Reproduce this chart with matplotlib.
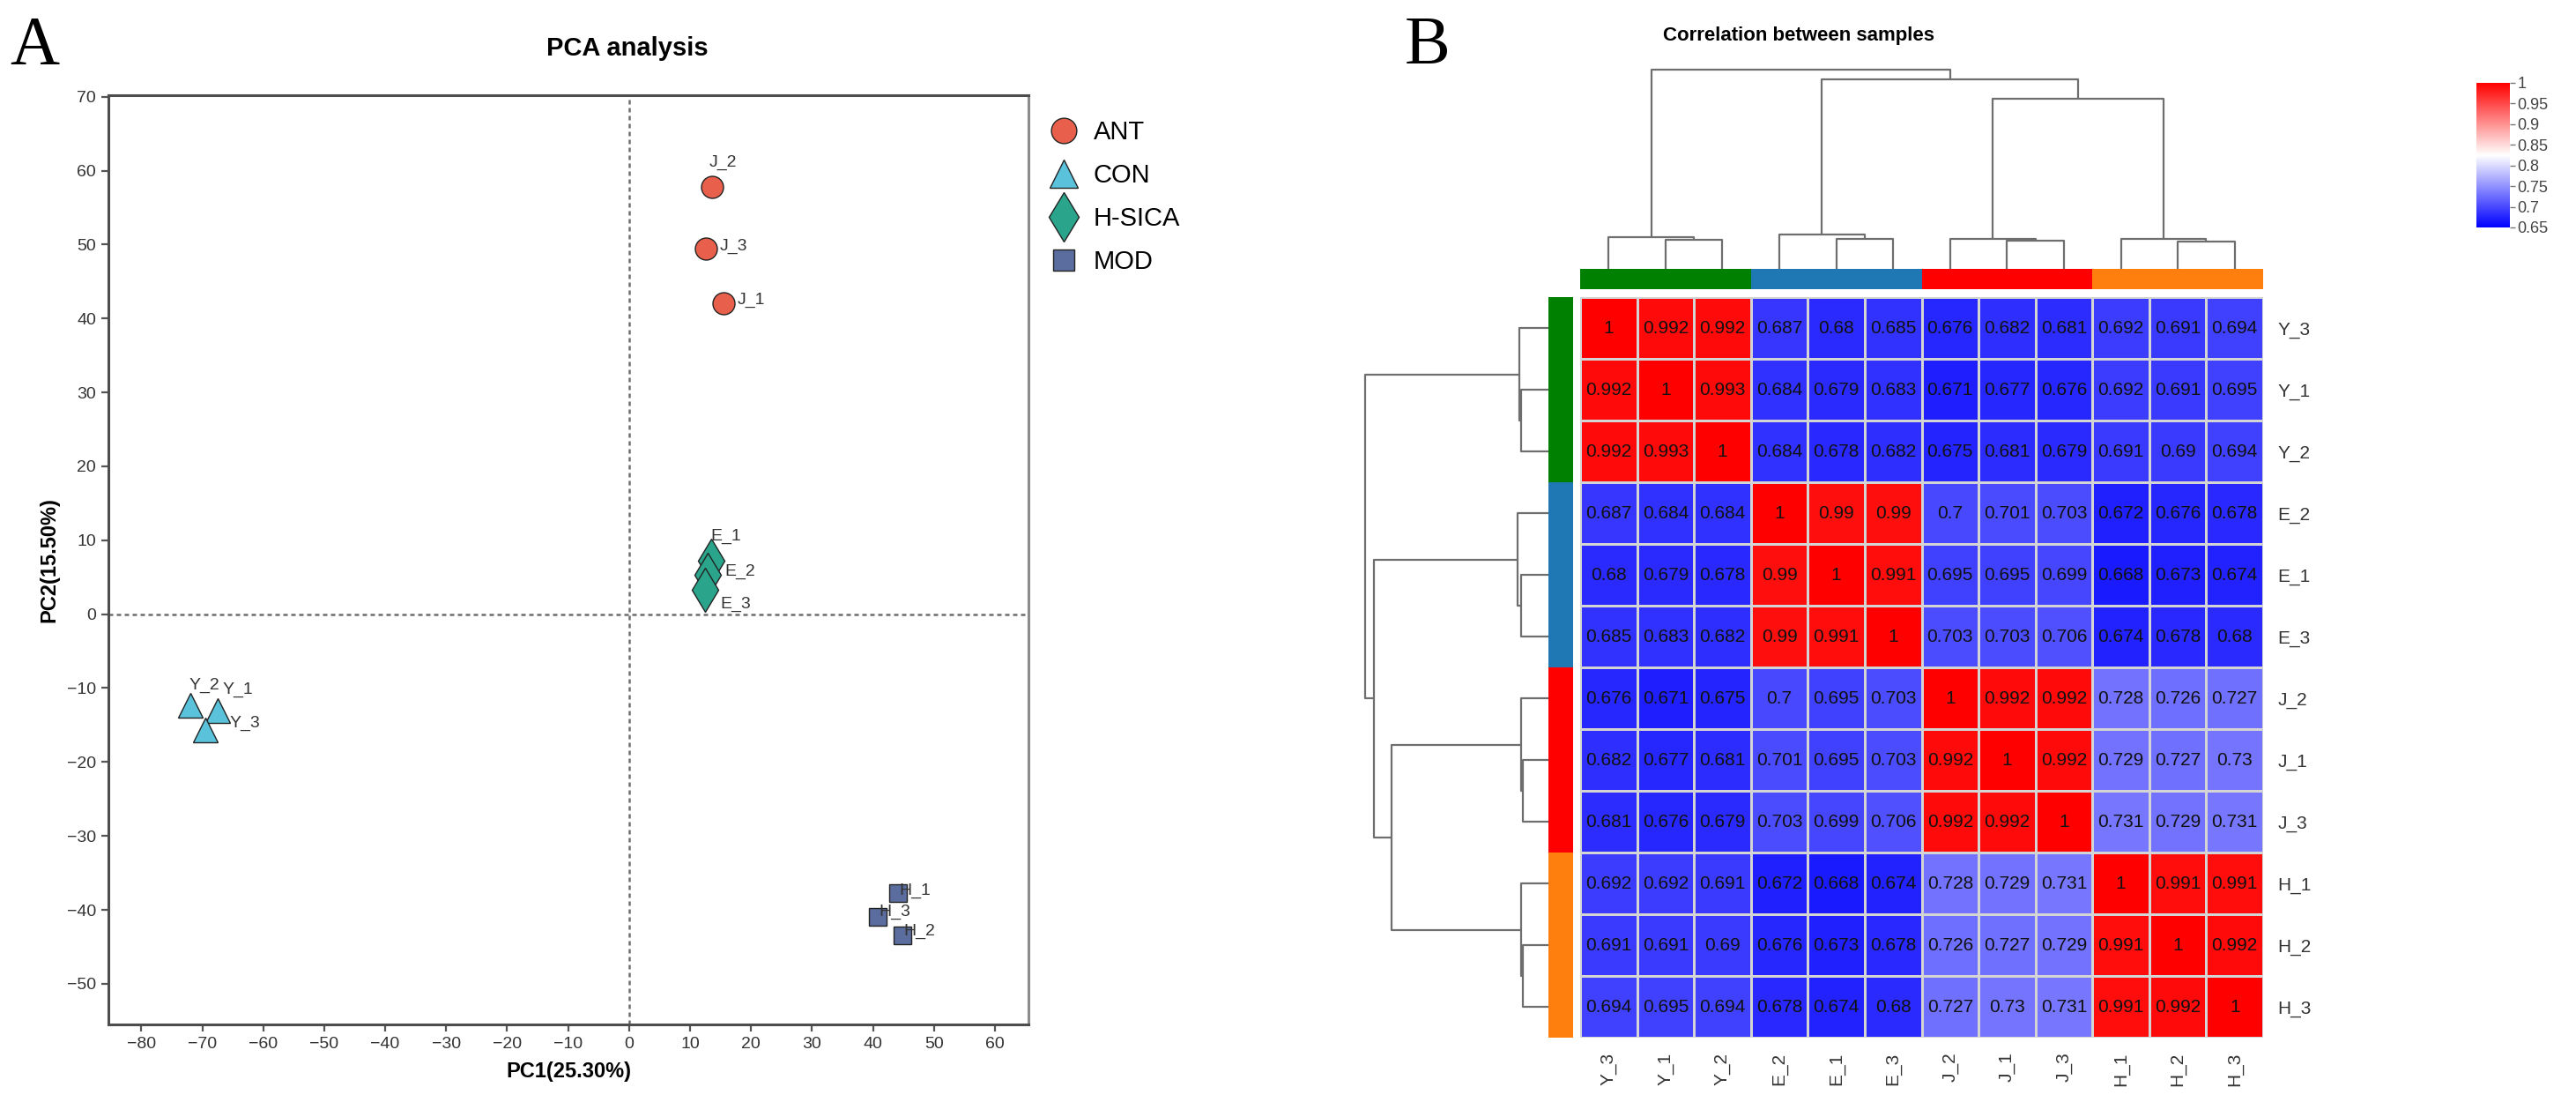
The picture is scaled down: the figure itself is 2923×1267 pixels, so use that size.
"""
PCA 散点图 + 样本相关性热图（复刻图）
"""

import numpy as np
import matplotlib as mpl
import matplotlib.pyplot as plt
from matplotlib.colors import LinearSegmentedColormap, Normalize
from matplotlib.lines import Line2D


# ===========================
# 数据
# ===========================

# ---- A: PCA ----
samples = ["J_1", "J_2", "J_3", "Y_1", "Y_2", "Y_3",
           "E_1", "E_2", "E_3", "H_1", "H_2", "H_3"]
pc1 = [15.5, 13.6, 12.6, -67.5, -72.0, -69.5, 13.4, 12.9, 12.4, 44.1, 44.8, 40.8]
pc2 = [42.0, 57.8, 49.4, -13.1, -12.3, -15.7, 7.2, 5.3, 3.3, -37.7, -43.4, -41.0]
sample_group = ["ANT"] * 3 + ["CON"] * 3 + ["H-SICA"] * 3 + ["MOD"] * 3

groups = ["ANT", "CON", "H-SICA", "MOD"]
x_ticks = list(range(-80, 61, 10))
y_ticks = list(range(-50, 71, 10))

# ---- B: correlation heatmap ----
hm_labels = ["Y_3", "Y_1", "Y_2", "E_2", "E_1", "E_3",
             "J_2", "J_1", "J_3", "H_1", "H_2", "H_3"]
hm_group = ["Y"] * 3 + ["E"] * 3 + ["J"] * 3 + ["H"] * 3

corr = [
    [1, 0.992, 0.992, 0.687, 0.68, 0.685, 0.676, 0.682, 0.681, 0.692, 0.691, 0.694],
    [0.992, 1, 0.993, 0.684, 0.679, 0.683, 0.671, 0.677, 0.676, 0.692, 0.691, 0.695],
    [0.992, 0.993, 1, 0.684, 0.678, 0.682, 0.675, 0.681, 0.679, 0.691, 0.69, 0.694],
    [0.687, 0.684, 0.684, 1, 0.99, 0.99, 0.7, 0.701, 0.703, 0.672, 0.676, 0.678],
    [0.68, 0.679, 0.678, 0.99, 1, 0.991, 0.695, 0.695, 0.699, 0.668, 0.673, 0.674],
    [0.685, 0.683, 0.682, 0.99, 0.991, 1, 0.703, 0.703, 0.706, 0.674, 0.678, 0.68],
    [0.676, 0.671, 0.675, 0.7, 0.695, 0.703, 1, 0.992, 0.992, 0.728, 0.726, 0.727],
    [0.682, 0.677, 0.681, 0.701, 0.695, 0.703, 0.992, 1, 0.992, 0.729, 0.727, 0.73],
    [0.681, 0.676, 0.679, 0.703, 0.699, 0.706, 0.992, 0.992, 1, 0.731, 0.729, 0.731],
    [0.692, 0.692, 0.691, 0.672, 0.668, 0.674, 0.728, 0.729, 0.731, 1, 0.991, 0.991],
    [0.691, 0.691, 0.69, 0.676, 0.673, 0.678, 0.726, 0.727, 0.729, 0.991, 1, 0.992],
    [0.694, 0.695, 0.694, 0.678, 0.674, 0.68, 0.727, 0.73, 0.731, 0.991, 0.992, 1],
]

# 聚类树（叶子序号按 hm_labels 顺序，新节点从 12 开始编号）
merge_a = [1, 0, 4, 3, 7, 6, 10, 9, 17, 15, 13]
merge_b = [2, 12, 5, 14, 8, 16, 11, 18, 19, 20, 21]
merge_h = [100, 107, 102, 115, 95, 101, 94, 102, 577, 642, 675]

cbar_ticks = [0.65, 0.7, 0.75, 0.8, 0.85, 0.9, 0.95, 1.0]
cbar_ticklabels = ["0.65", "0.7", "0.75", "0.8", "0.85", "0.9", "0.95", "1"]


# ===========================
# 样式
# ===========================

W, H = 2923, 1267
DPI = 100

FONT = "Liberation Sans"

group_style = {
    "ANT": dict(marker="o", color="#E8604C", ms=18),
    "CON": dict(marker="^", color="#5BC2DC", ms=20),
    "H-SICA": dict(marker="d", color="#2AA58C", ms=25),
    "MOD": dict(marker="s", color="#5A6D9E", ms=15),
}

# 样本标签偏移 (points)
label_offset = {
    "J_2": (-2, 14, "left", "bottom"),
    "J_3": (11, 2, "left", "center"),
    "J_1": (11, 3, "left", "center"),
    "E_1": (0, 20, "left", "center"),
    "E_2": (14, 3, "left", "center"),
    "E_3": (13, -12, "left", "center"),
    "Y_2": (-1, 16, "left", "center"),
    "Y_1": (4, 17, "left", "center"),
    "Y_3": (20, 6, "left", "center"),
    "H_1": (1, 2, "left", "center"),
    "H_3": (1, 4, "left", "center"),
    "H_2": (1, 3, "left", "center"),
}

anno_colors = {"Y": "#008000", "E": "#1F77B4", "J": "#FF0000", "H": "#FF7F0E"}

cmap = LinearSegmentedColormap.from_list("bwr_ph", ["#0000FF", "#FFFFFF", "#FF0000"])
norm = Normalize(vmin=0.65, vmax=1.0)

plt.rcParams["font.family"] = [FONT, "DejaVu Sans"]


def px_rect(x0, y0, x1, y1):
    return [x0 / W, 1 - y1 / H, (x1 - x0) / W, (y1 - y0) / H]


fig = plt.figure(figsize=(W / DPI, H / DPI), dpi=DPI)


# ===========================
# A: PCA
# ===========================

ax = fig.add_axes(px_rect(123, 108, 1167, 1162))

ax.axvline(0, color="#6e6e6e", lw=1.8, linestyle=(0, (2, 1.6)), zorder=1)
ax.axhline(0, color="#6e6e6e", lw=1.8, linestyle=(0, (2, 1.6)), zorder=1)

for g in groups:
    st = group_style[g]
    xs = [x for x, sg in zip(pc1, sample_group) if sg == g]
    ys = [y for y, sg in zip(pc2, sample_group) if sg == g]
    ax.plot(xs, ys, linestyle="none", marker=st["marker"], ms=st["ms"],
            markerfacecolor=st["color"], markeredgecolor="#222222",
            markeredgewidth=1.0, zorder=3)

for name, x, y in zip(samples, pc1, pc2):
    dx, dy, ha, va = label_offset[name]
    ax.annotate(name, (x, y), xytext=(dx, dy), textcoords="offset points",
                ha=ha, va=va, fontsize=14, color="#333333", zorder=4)

ax.set_xlim(-85.4, 65.5)
ax.set_ylim(-55.5, 70.2)
ax.set_xticks(x_ticks)
ax.set_yticks(y_ticks)
ax.set_xticklabels([str(t).replace("-", "\u2212") for t in x_ticks])
ax.set_yticklabels([str(t).replace("-", "\u2212") for t in y_ticks])

ax.tick_params(direction="out", length=6, width=1.6, color="#555555",
               labelsize=14, labelcolor="#333333", pad=4)

for side in ["left", "bottom", "top"]:
    ax.spines[side].set_color("#4d4d4d")
    ax.spines[side].set_linewidth(2.2)
ax.spines["right"].set_color("#8c8c8c")
ax.spines["right"].set_linewidth(2.2)

ax.set_xlabel("PC1(25.30%)", fontsize=17, fontweight="bold", labelpad=8)
ax.set_ylabel("PC2(15.50%)", fontsize=17, fontweight="bold", labelpad=6)

fig.text(712 / W, 1 - 63 / H, "PCA analysis", ha="center", va="baseline",
         fontsize=21, fontweight="bold")

handles = [
    Line2D([], [], linestyle="none", marker=group_style[g]["marker"],
           ms=group_style[g]["ms"] * 1.15,
           markerfacecolor=group_style[g]["color"],
           markeredgecolor="#222222", markeredgewidth=1.0)
    for g in groups
]
fig.legend(handles, groups, loc="upper left",
           bbox_to_anchor=(1188 / W, 1 - 136 / H), frameon=False,
           fontsize=21, handletextpad=0.5, labelspacing=0.72,
           borderaxespad=0, handlelength=1.3, borderpad=0)

fig.text(11 / W, 1 - 72 / H, "A", ha="left", va="baseline",
         fontsize=56, family="Liberation Serif")


# ===========================
# B: 相关性热图
# ===========================

n = len(hm_labels)
mat = np.array(corr)

ax_hm = fig.add_axes(px_rect(1793, 337, 2568, 1177))
ax_hm.pcolormesh(np.arange(n + 1), np.arange(n + 1), mat, cmap=cmap, norm=norm,
                 edgecolors="#d4d4d4", linewidth=1.0)
ax_hm.set_xlim(0, n)
ax_hm.set_ylim(n, 0)

for i in range(n):
    for j in range(n):
        v = mat[i, j]
        txt = "1" if v == 1 else f"{v:g}"
        ax_hm.text(j + 0.5, i + 0.5, txt, ha="center", va="center",
                   fontsize=15, color="#111111")

ax_hm.set_xticks(np.arange(n) + 0.5)
ax_hm.set_xticklabels(hm_labels, rotation=90, fontsize=15, color="#333333")
ax_hm.set_yticks(np.arange(n) + 0.5)
ax_hm.set_yticklabels(hm_labels, fontsize=15, color="#333333")
ax_hm.yaxis.tick_right()
ax_hm.tick_params(length=0, pad=12)
for s in ax_hm.spines.values():
    s.set_visible(False)

# 注释色条
ax_cb_top = fig.add_axes(px_rect(1793, 305, 2568, 328))
ax_cb_top.bar(np.arange(n) + 0.5, 1, width=1.0,
              color=[anno_colors[g] for g in hm_group], linewidth=0)
ax_cb_top.set_xlim(0, n)
ax_cb_top.set_ylim(0, 1)
ax_cb_top.axis("off")

ax_cb_left = fig.add_axes(px_rect(1757, 337, 1785, 1177))
ax_cb_left.barh(np.arange(n) + 0.5, 1, height=1.0,
                color=[anno_colors[g] for g in hm_group], linewidth=0)
ax_cb_left.set_ylim(n, 0)
ax_cb_left.set_xlim(0, 1)
ax_cb_left.axis("off")


# 聚类树
def draw_dendro(axd, orient):
    pos = {i: i + 0.5 for i in range(n)}
    hgt = {i: 0 for i in range(n)}
    for k, (a, b, h) in enumerate(zip(merge_a, merge_b, merge_h)):
        xs = [pos[a], pos[a], pos[b], pos[b]]
        ys = [hgt[a], h, h, hgt[b]]
        if orient == "top":
            axd.plot(xs, ys, color="#6e6e6e", lw=1.6, clip_on=False,
                     solid_capstyle="butt")
        else:
            axd.plot(ys, xs, color="#6e6e6e", lw=1.6, clip_on=False,
                     solid_capstyle="butt")
        pos[n + k] = (pos[a] + pos[b]) / 2
        hgt[n + k] = h


ax_dt = fig.add_axes(px_rect(1793, 79, 2568, 305))
draw_dendro(ax_dt, "top")
ax_dt.set_xlim(0, n)
ax_dt.set_ylim(0, max(merge_h))
ax_dt.axis("off")

ax_dl = fig.add_axes(px_rect(1549, 337, 1757, 1177))
draw_dendro(ax_dl, "left")
ax_dl.set_ylim(n, 0)
ax_dl.set_xlim(max(merge_h), 0)
ax_dl.axis("off")

# 色标
cax = fig.add_axes(px_rect(2810, 94, 2848, 258))
cb = mpl.colorbar.ColorbarBase(cax, cmap=cmap, norm=norm, ticks=cbar_ticks)
cb.set_ticklabels(cbar_ticklabels)
cb.outline.set_visible(False)
cax.tick_params(length=4, width=1, color="#777777", labelsize=13,
                labelcolor="#444444", pad=2)

fig.text(2041 / W, 1 - 46 / H, "Correlation between samples", ha="center",
         va="baseline", fontsize=16, fontweight="bold")

fig.text(1594 / W, 1 - 72 / H, "B", ha="left", va="baseline",
         fontsize=56, family="Liberation Serif")


fig.savefig("out.png", dpi=DPI, facecolor="white")
